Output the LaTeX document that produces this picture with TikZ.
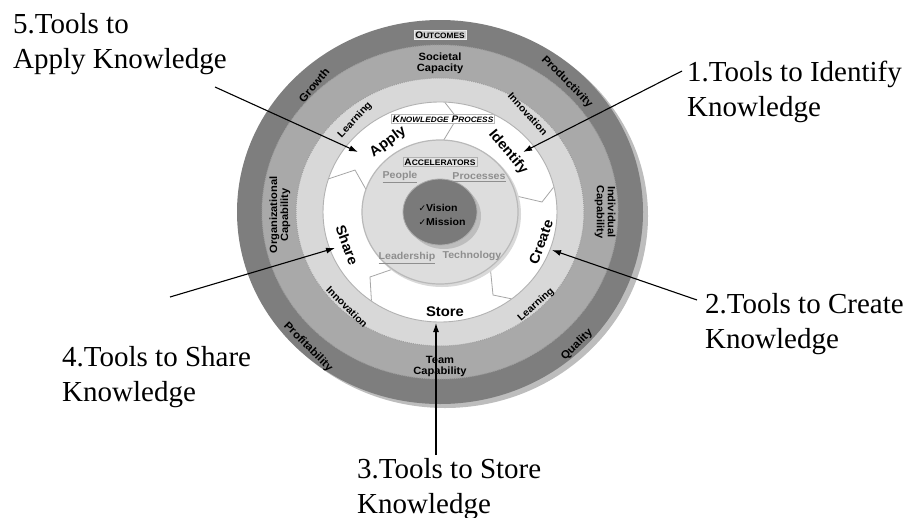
\documentclass[tikz,border=0pt]{standalone}
\usepackage{fontspec}
\setmainfont{Liberation Serif}
\newfontfamily\arl[FakeStretch=1.06]{Liberation Sans}
\newfontfamily\djv{DejaVu Sans}
\usetikzlibrary{arrows.meta}
\definecolor{darkc}{HTML}{7E7E7E}
\definecolor{medc}{HTML}{A9A9A9}
\definecolor{lightc}{HTML}{D8D8D8}
\definecolor{accc}{HTML}{DDDDDD}
\definecolor{visc}{HTML}{7A7A7A}
\definecolor{shadc}{HTML}{BDBDBD}
\definecolor{greyt}{HTML}{8E8E8E}
\newcommand\smcA[1]{{\fontsize{9.5}{10}\selectfont #1}}
\newcommand\smcB[1]{{\fontsize{7.8}{9}\selectfont #1}}
\newcommand\smcC[1]{{\fontsize{8}{9}\selectfont #1}}
\begin{document}
\begin{tikzpicture}[x=1pt,y=-1pt,
  lbl/.style={font=\fontsize{29}{35}\selectfont, align=left, inner sep=0pt, anchor=north west},
  ptr/.style={-{Latex[length=9pt,width=6pt]}, line width=1.1pt, black},
  outtxt/.style={font=\arl\bfseries\fontsize{11}{12}\selectfont, inner sep=0pt, align=center},
  captxt/.style={font=\arl\bfseries\fontsize{10.5}{12}\selectfont, inner sep=0pt, align=center},
  ringtxt/.style={font=\arl\bfseries\fontsize{10}{11}\selectfont, inner sep=0pt},
  proctxt/.style={font=\arl\bfseries\fontsize{14}{15}\selectfont, inner sep=0pt},
  acctxt/.style={font=\arl\bfseries\fontsize{10}{11}\selectfont, inner sep=0pt, text=greyt},
  serr/.style={draw=gray!75, line width=1pt, dash pattern=on 1pt off 1pt},
  boundary/.style={draw=gray!70, line width=0.8pt},
  titlebox/.style={font=\arl\bfseries, inner sep=1.5pt, line width=0.8pt}
]
\useasboundingbox (0,0) rectangle (917,517);
\coordinate (c) at (440,212);
% rings
\fill[shadc] ([shift={(5,4)}]c) ellipse [x radius=203pt, y radius=192pt];
\fill[darkc] (c) ellipse [x radius=203pt, y radius=192pt];
\fill[medc] (c) ellipse [x radius=178pt, y radius=167pt];
\draw[serr] (c) ellipse [x radius=178pt, y radius=167pt];
\fill[lightc] (c) ellipse [x radius=144pt, y radius=134pt];
\draw[serr] (c) ellipse [x radius=144pt, y radius=134pt];
\draw[fill=white, draw=gray!60, line width=0.9pt] (c) ellipse [x radius=117pt, y radius=110pt];
% knowledge process boundaries
\begin{scope}
\clip (c) ellipse [x radius=116.5pt, y radius=109.5pt];
\coordinate (t1) at (443,100); \coordinate (t2) at (457,118); \coordinate (t3) at (442,143);
\coordinate (l1) at (322,181); \coordinate (l2) at (355,170); \coordinate (l3) at (368,193);
\coordinate (r1) at (560,179); \coordinate (r2) at (542,202); \coordinate (r3) at (512,195);
\coordinate (bl1) at (372,310); \coordinate (bl2) at (370,277); \coordinate (bl3) at (396,268);
\coordinate (br1) at (522,301); \coordinate (br2) at (493,295); \coordinate (br3) at (490,265);
\draw[boundary] (t1) -- (t2) -- (t3);
\draw[boundary] (l1) -- (l2) -- (l3);
\draw[boundary] (r1) -- (r2) -- (r3);
\draw[boundary] (bl1) -- (bl2) -- (bl3);
\draw[boundary] (br1) -- (br2) -- (br3);
\end{scope}
% accelerators
\fill[gray!30] ([shift={(2,2)}]c) ellipse [x radius=79pt, y radius=73pt];
\draw[fill=accc, draw=gray!55, line width=1.2pt] (c) ellipse [x radius=78pt, y radius=72pt];
% vision
\fill[shadc] ([shift={(4,4)}]c) ellipse [x radius=37pt, y radius=33pt];
\draw[fill=visc, draw=gray!65, line width=0.8pt] (c) ellipse [x radius=37pt, y radius=33pt];
% outer ring texts
\node[titlebox, fill=gray!38, draw=gray!15] (outc) at (440,35) {\smcA{O}\smcB{UTCOMES}};
\node[outtxt, rotate=50] (growth) at (314,85) {Growth};
\node[outtxt, rotate=-45] (prod) at (567,82) {Productivity};
\node[outtxt, rotate=-45] (profit) at (308,347) {Profitability};
\node[outtxt, rotate=45] (qual) at (577,345) {Quality};
% capability texts
\node[captxt] (soc) at (440,63) {Societal\\[-1pt]Capacity};
\node[captxt, rotate=90] (org) at (280,215) {Organizational\\[-1pt]Capability};
\node[captxt, rotate=-90] (ind) at (605,212) {Individual\\[-1pt]Capability};
\node[captxt] (team) at (440,366) {Team\\[-1pt]Capability};
% light ring texts
\node[ringtxt, rotate=47] (learn1) at (355,120) {Learning};
\node[ringtxt, rotate=-48] (innov1) at (528,114) {Innovation};
\node[ringtxt, rotate=-45] (innov2) at (347,307) {Innovation};
\node[ringtxt, rotate=42] (learn2) at (536,305) {Learning};
% knowledge process
\node[titlebox, fill=white, draw=gray!55, font=\arl\bfseries\itshape] (kp) at (443,119) {\smcA{K}\smcB{NOWLEDGE} \smcA{P}\smcB{ROCESS}};
\node[proctxt, rotate=37] (apply) at (388,142) {Apply};
\node[proctxt, rotate=-50] (ident) at (508,152) {Identify};
\node[proctxt, rotate=70] (create) at (541,242) {Create};
\node[proctxt, rotate=-70] (share) at (347,245) {Share};
\node[proctxt] (store) at (445,312) {Store};
% accelerators texts
\node[titlebox, fill=gray!20, draw=gray!60] (acc) at (440,162) {\smcA{A}\smcC{CCELERATORS}};
\node[acctxt] (people) at (400,177) {\underline{People}};
\node[acctxt] (proc) at (479,177) {\underline{Processes}};
\node[acctxt] (lead) at (407,258) {\underline{Leadership}};
\node[acctxt] (tech) at (472,256) {Technology};
\node[font=\arl\bfseries\fontsize{10}{14}\selectfont, align=left, inner sep=0pt] (vis) at (442,215) {{\djv\fontsize{9}{10}\selectfont ✓}Vision\\{\djv\fontsize{9}{10}\selectfont ✓}Mission};
% labels
\node[lbl] (L5) at (13,13) {5.Tools to\\Apply Knowledge};
\node[lbl] (L1) at (687,61) {1.Tools to Identify\\Knowledge};
\node[lbl] (L2) at (705,293) {2.Tools to Create\\Knowledge};
\node[lbl] (L4) at (62,346) {4.Tools to Share\\Knowledge};
\node[lbl] (L3) at (357,458) {3.Tools to Store\\Knowledge};
% arrows
\coordinate (s5) at (215,87);   \coordinate (e5) at (358,152);
\coordinate (s1) at (682,71);   \coordinate (e1) at (523,152);
\coordinate (s2) at (697,300);  \coordinate (e2) at (552,250);
\coordinate (s4) at (170,297);  \coordinate (e4) at (335,248);
\coordinate (s3) at (436,455);  \coordinate (e3) at (436,323);
\draw[ptr] (s5) -- (e5);
\draw[ptr] (s1) -- (e1);
\draw[ptr] (s2) -- (e2);
\draw[ptr] (s4) -- (e4);
\draw[ptr] (s3) -- (e3);
\end{tikzpicture}
\end{document}
